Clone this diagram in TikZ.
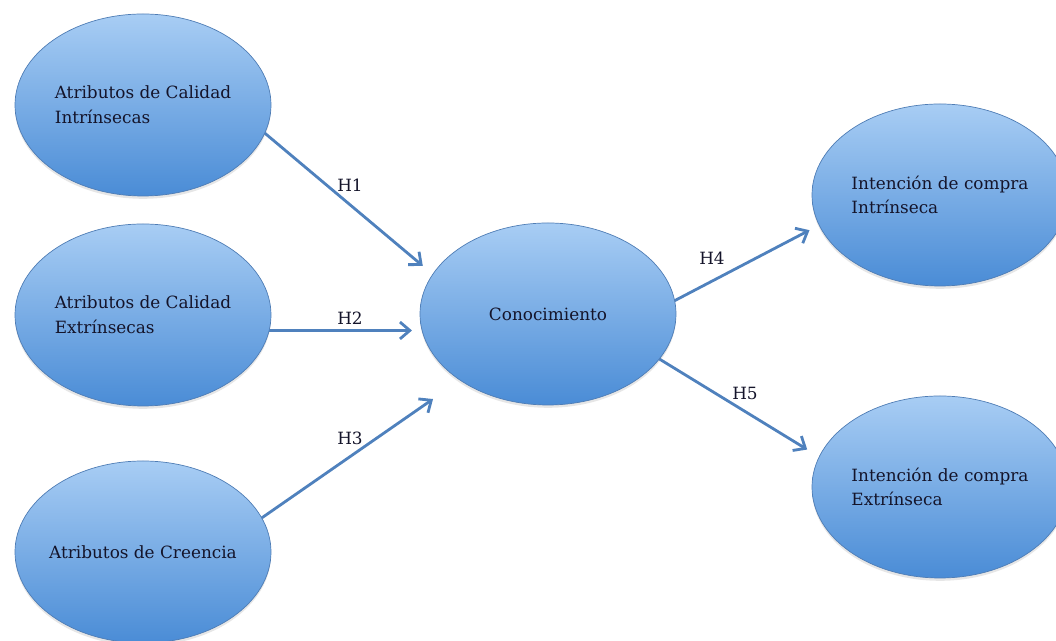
\documentclass[tikz,border=0pt]{standalone}
\usepackage{fontspec}
\setmainfont{DejaVu Serif}
\usetikzlibrary{shapes.geometric,arrows.meta,shadows}

\definecolor{bubbletop}{HTML}{A8CDF4}
\definecolor{bubblebot}{HTML}{4A8CD6}
\definecolor{bubbleedge}{HTML}{4F7DB5}
\definecolor{arrowblue}{HTML}{4F81BD}
\definecolor{inktext}{HTML}{14142A}

\begin{document}
\begin{tikzpicture}[
    bubble/.style={ellipse, draw=bubbleedge, line width=0.5pt,
      top color=bubbletop, bottom color=bubblebot,
      minimum width=6.4cm, minimum height=4.55cm,
      inner xsep=-0.5cm, inner ysep=0pt, outer sep=0pt,
      align=left, text=inktext, font=\fontsize{12}{17.5}\selectfont,
      drop shadow={opacity=0.2, shadow xshift=0pt, shadow yshift=-2pt}},
    link/.style={draw=arrowblue, line width=2pt,
      -{Straight Barb[length=7pt,width=12pt]}},
    hyp/.style={text=inktext, font=\fontsize{12}{14}\selectfont}]
    \useasboundingbox (0,0) rectangle (26.4,16.025);

    \node [bubble] (atrInt) at (3.575,13.4) {Atributos de Calidad\\Intrínsecas};
    \node [bubble] (atrExt) at (3.575,8.15) {Atributos de Calidad\\Extrínsecas};
    \node [bubble] (atrCre) at (3.575,2.225) {Atributos de Creencia};
    \node [bubble] (cono) at (13.7,8.175) {Conocimiento};
    \node [bubble] (intInt) at (23.5,11.15) {Intención de compra\\Intrínseca};
    \node [bubble] (intExt) at (23.5,3.85) {Intención de compra\\Extrínseca};

    \draw [link, shorten >=9.3pt] (atrInt.-13) -- (cono.161);
    \draw [link, shorten >=5.7pt] (atrExt.-7) -- (atrExt.-7 -| cono.west);
    \draw [link, shorten >=23.5pt] (atrCre.16) -- (cono.217);
    \draw [link, shorten >=7.8pt] (cono.6) -- (intInt.194);
    \draw [link, shorten >=10pt] (cono.-22) -- (intExt.166);

    \node [hyp] (h1) at (8.75,11.4) {H1};
    \node [hyp] (h2) at (8.75,8.075) {H2};
    \node [hyp] (h3) at (8.75,5.075) {H3};
    \node [hyp] (h4) at (17.8,9.575) {H4};
    \node [hyp] (h5) at (18.625,6.2) {H5};
  \end{tikzpicture}
\end{document}
